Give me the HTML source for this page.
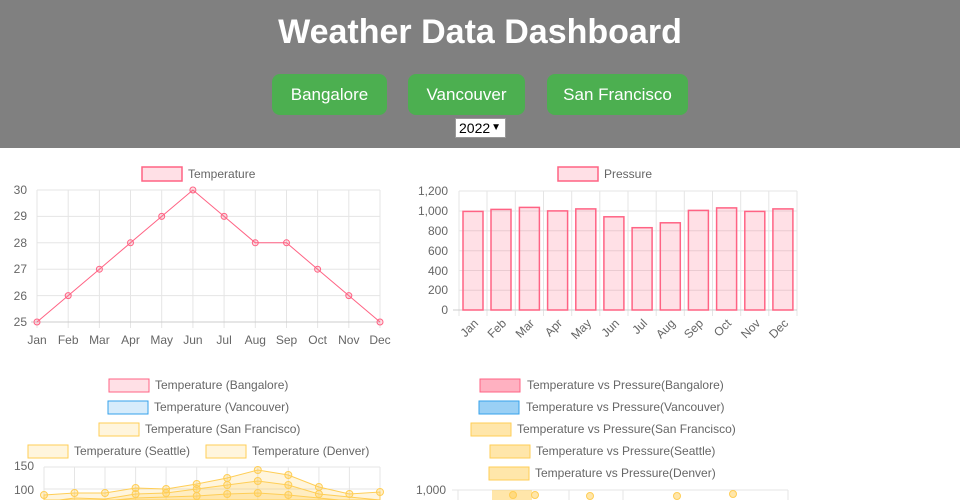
<!DOCTYPE html>
<html><head><meta charset="utf-8"><style>
body{margin:0;width:960px;height:500px;overflow:hidden;background:#fff;font-family:"Liberation Sans",sans-serif}
.hdr{position:absolute;left:0;top:0;width:960px;height:148px;background:#808080}
h1{position:absolute;left:0;width:960px;top:13px;margin:0;text-align:center;color:#fff;font-size:34px;font-weight:bold}
.b{position:absolute;top:74px;height:41px;background:#4CAF50;border-radius:8px;color:#fff;font-size:17px;line-height:41px;text-align:center}
.sel{position:absolute;left:455px;top:118px;width:51px;height:20px;background:#fff;border:1px solid #999;box-sizing:border-box;font-size:14px;line-height:18px;padding-left:3px;color:#000;white-space:nowrap;overflow:hidden}
.sel span{position:absolute;right:4px;top:0;font-size:10px}
svg{position:absolute;left:0;top:0}
text{font-family:"Liberation Sans",sans-serif;font-size:12px;fill:#666}
</style></head><body>
<div class="hdr"></div>
<h1>Weather Data Dashboard</h1>
<div class="b" style="left:272px;width:115px">Bangalore</div>
<div class="b" style="left:408px;width:117px">Vancouver</div>
<div class="b" style="left:547px;width:141px">San Francisco</div>
<div class="sel">2022<span>&#9660;</span></div>
<svg width="960" height="500">
<!-- chart1 -->
<rect x="142" y="167" width="40" height="14" fill="rgba(255,99,132,0.2)" stroke="rgb(255,99,132)" stroke-width="1.5"/>
<text x="188" y="178">Temperature</text>
<g stroke="#e5e5e5" stroke-width="1">
<line x1="37" x2="380" y1="190" y2="190"/><line x1="37" x2="380" y1="216.4" y2="216.4"/><line x1="37" x2="380" y1="242.8" y2="242.8"/><line x1="37" x2="380" y1="269.2" y2="269.2"/><line x1="37" x2="380" y1="295.6" y2="295.6"/>
<line x1="37" x2="37" y1="190" y2="328"/><line x1="68.2" x2="68.2" y1="190" y2="328"/><line x1="99.4" x2="99.4" y1="190" y2="328"/><line x1="130.5" x2="130.5" y1="190" y2="328"/><line x1="161.7" x2="161.7" y1="190" y2="328"/><line x1="192.9" x2="192.9" y1="190" y2="328"/><line x1="224.1" x2="224.1" y1="190" y2="328"/><line x1="255.3" x2="255.3" y1="190" y2="328"/><line x1="286.5" x2="286.5" y1="190" y2="328"/><line x1="317.6" x2="317.6" y1="190" y2="328"/><line x1="348.8" x2="348.8" y1="190" y2="328"/><line x1="380" x2="380" y1="190" y2="328"/>
</g>
<line x1="31" x2="380" y1="322" y2="322" stroke="#ccc"/>
<g text-anchor="end"><text x="27" y="194">30</text><text x="27" y="220">29</text><text x="27" y="247">28</text><text x="27" y="273">27</text><text x="27" y="300">26</text><text x="27" y="326">25</text></g>
<g text-anchor="middle"><text x="37" y="344">Jan</text><text x="68.2" y="344">Feb</text><text x="99.4" y="344">Mar</text><text x="130.5" y="344">Apr</text><text x="161.7" y="344">May</text><text x="192.9" y="344">Jun</text><text x="224.1" y="344">Jul</text><text x="255.3" y="344">Aug</text><text x="286.5" y="344">Sep</text><text x="317.6" y="344">Oct</text><text x="348.8" y="344">Nov</text><text x="380" y="344">Dec</text></g>
<polyline fill="none" stroke="rgb(255,99,132)" stroke-width="1" points="37,322 68.2,295.6 99.4,269.2 130.5,242.8 161.7,216.4 192.9,190 224.1,216.4 255.3,242.8 286.5,242.8 317.6,269.2 348.8,295.6 380,322"/>
<g fill="rgba(255,99,132,0.2)" stroke="rgb(255,99,132)"><circle cx="37" cy="322" r="3"/><circle cx="68.2" cy="295.6" r="3"/><circle cx="99.4" cy="269.2" r="3"/><circle cx="130.5" cy="242.8" r="3"/><circle cx="161.7" cy="216.4" r="3"/><circle cx="192.9" cy="190" r="3"/><circle cx="224.1" cy="216.4" r="3"/><circle cx="255.3" cy="242.8" r="3"/><circle cx="286.5" cy="242.8" r="3"/><circle cx="317.6" cy="269.2" r="3"/><circle cx="348.8" cy="295.6" r="3"/><circle cx="380" cy="322" r="3"/></g>
<!-- chart2 -->
<rect x="558" y="167" width="40" height="14" fill="rgba(255,99,132,0.2)" stroke="rgb(255,99,132)" stroke-width="1.5"/>
<text x="604" y="178">Pressure</text>
<g stroke="#e5e5e5">
<line x1="459" x2="797" y1="191" y2="191"/><line x1="459" x2="797" y1="211" y2="211"/><line x1="459" x2="797" y1="230.8" y2="230.8"/><line x1="459" x2="797" y1="250.7" y2="250.7"/><line x1="459" x2="797" y1="270.5" y2="270.5"/><line x1="459" x2="797" y1="290.3" y2="290.3"/>
<line x1="459" x2="459" y1="191" y2="316"/><line x1="487" x2="487" y1="191" y2="316"/><line x1="515.3" x2="515.3" y1="191" y2="316"/><line x1="543.5" x2="543.5" y1="191" y2="316"/><line x1="571.7" x2="571.7" y1="191" y2="316"/><line x1="599.8" x2="599.8" y1="191" y2="316"/><line x1="628" x2="628" y1="191" y2="316"/><line x1="656.2" x2="656.2" y1="191" y2="316"/><line x1="684.3" x2="684.3" y1="191" y2="316"/><line x1="712.5" x2="712.5" y1="191" y2="316"/><line x1="740.7" x2="740.7" y1="191" y2="316"/><line x1="768.8" x2="768.8" y1="191" y2="316"/><line x1="797" x2="797" y1="191" y2="316"/>
</g>
<line x1="453" x2="797" y1="310" y2="310" stroke="#ccc"/>
<g text-anchor="end"><text x="448" y="195">1,200</text><text x="448" y="215">1,000</text><text x="448" y="235">800</text><text x="448" y="255">600</text><text x="448" y="275">400</text><text x="448" y="294">200</text><text x="448" y="314">0</text></g>
<g fill="rgba(255,99,132,0.2)" stroke="rgb(255,99,132)" stroke-width="1.5">
<rect x="463" y="211.4" width="20" height="98.6"/><rect x="491" y="209.4" width="20" height="100.6"/><rect x="519.4" y="207.4" width="20" height="102.6"/><rect x="547.6" y="210.9" width="20" height="99.1"/><rect x="575.8" y="208.9" width="20" height="101.1"/><rect x="603.9" y="216.8" width="20" height="93.2"/><rect x="632.1" y="227.7" width="20" height="82.3"/><rect x="660.3" y="222.8" width="20" height="87.2"/><rect x="688.4" y="210.4" width="20" height="99.6"/><rect x="716.6" y="207.9" width="20" height="102.1"/><rect x="744.8" y="211.4" width="20" height="98.6"/><rect x="772.9" y="208.9" width="20" height="101.1"/>
</g>
<g text-anchor="end">
<text transform="translate(479,324) rotate(-45)">Jan</text><text transform="translate(507,324) rotate(-45)">Feb</text><text transform="translate(535,324) rotate(-45)">Mar</text><text transform="translate(563,324) rotate(-45)">Apr</text><text transform="translate(592,324) rotate(-45)">May</text><text transform="translate(620,324) rotate(-45)">Jun</text><text transform="translate(648,324) rotate(-45)">Jul</text><text transform="translate(676,324) rotate(-45)">Aug</text><text transform="translate(704,324) rotate(-45)">Sep</text><text transform="translate(732,324) rotate(-45)">Oct</text><text transform="translate(761,324) rotate(-45)">Nov</text><text transform="translate(789,324) rotate(-45)">Dec</text>
</g>
<!-- chart3 -->
<rect x="109" y="379" width="40" height="13" fill="rgba(255,99,132,0.2)" stroke="rgb(255,99,132)"/><text x="155" y="389">Temperature (Bangalore)</text>
<rect x="108" y="401" width="40" height="13" fill="rgba(54,162,235,0.2)" stroke="rgb(54,162,235)"/><text x="154" y="411">Temperature (Vancouver)</text>
<rect x="99" y="423" width="40" height="13" fill="rgba(255,206,86,0.2)" stroke="rgb(255,206,86)"/><text x="145" y="433">Temperature (San Francisco)</text>
<rect x="28" y="445" width="40" height="13" fill="rgba(255,206,86,0.2)" stroke="rgb(255,206,86)"/><text x="74" y="455">Temperature (Seattle)</text>
<rect x="206" y="445" width="40" height="13" fill="rgba(255,206,86,0.2)" stroke="rgb(255,206,86)"/><text x="252" y="455">Temperature (Denver)</text>
<g stroke="#e5e5e5"><line x1="44" x2="380" y1="467" y2="467"/><line x1="44" x2="380" y1="489" y2="489"/>
<line x1="44" x2="44" y1="467" y2="500"/><line x1="74.5" x2="74.5" y1="467" y2="500"/><line x1="105" x2="105" y1="467" y2="500"/><line x1="135.6" x2="135.6" y1="467" y2="500"/><line x1="166.1" x2="166.1" y1="467" y2="500"/><line x1="196.7" x2="196.7" y1="467" y2="500"/><line x1="227.2" x2="227.2" y1="467" y2="500"/><line x1="257.8" x2="257.8" y1="467" y2="500"/><line x1="288.3" x2="288.3" y1="467" y2="500"/><line x1="318.9" x2="318.9" y1="467" y2="500"/><line x1="349.4" x2="349.4" y1="467" y2="500"/><line x1="380" x2="380" y1="467" y2="500"/></g>
<text x="34" y="470" text-anchor="end">150</text><text x="34" y="494" text-anchor="end">100</text>
<g fill="rgba(255,206,86,0.2)" stroke="rgb(255,206,86)">
<path d="M44,495 L74.5,493 105,493 135.6,488 166.1,489 196.7,484 227.2,478 257.8,470 288.3,475 318.9,487 349.4,494 380,492 L380,500 44,500Z"/>
<path d="M44,502 L74.5,498 105,499 135.6,494 166.1,493 196.7,489 227.2,485 257.8,481 288.3,485 318.9,494 349.4,497 380,500 L380,500 44,500Z"/>
<path d="M74.5,502 105,501 135.6,498 166.1,497 196.7,496 227.2,494 257.8,493 288.3,495 318.9,498 349.4,501 L349.4,500 74.5,500Z"/>
</g>
<g fill="rgba(255,206,86,0.3)" stroke="rgb(255,206,86)">
<circle cx="44" cy="495" r="3.5"/><circle cx="74.5" cy="493" r="3.5"/><circle cx="105" cy="493" r="3.5"/><circle cx="135.6" cy="488" r="3.5"/><circle cx="166.1" cy="489" r="3.5"/><circle cx="196.7" cy="484" r="3.5"/><circle cx="227.2" cy="478" r="3.5"/><circle cx="257.8" cy="470" r="3.5"/><circle cx="288.3" cy="475" r="3.5"/><circle cx="318.9" cy="487" r="3.5"/><circle cx="349.4" cy="494" r="3.5"/><circle cx="380" cy="492" r="3.5"/>
<circle cx="135.6" cy="494" r="3.5"/><circle cx="166.1" cy="493" r="3.5"/><circle cx="196.7" cy="489" r="3.5"/><circle cx="227.2" cy="485" r="3.5"/><circle cx="257.8" cy="481" r="3.5"/><circle cx="288.3" cy="485" r="3.5"/><circle cx="318.9" cy="494" r="3.5"/>
<circle cx="196.7" cy="496" r="3.5"/><circle cx="227.2" cy="494" r="3.5"/><circle cx="257.8" cy="493" r="3.5"/><circle cx="288.3" cy="495" r="3.5"/>
</g>
<!-- chart4 -->
<rect x="480" y="379" width="40" height="13" fill="rgba(255,99,132,0.5)" stroke="rgb(255,99,132)"/><text x="527" y="389">Temperature vs Pressure(Bangalore)</text>
<rect x="479" y="401" width="40" height="13" fill="rgba(54,162,235,0.5)" stroke="rgb(54,162,235)"/><text x="526" y="411">Temperature vs Pressure(Vancouver)</text>
<rect x="471" y="423" width="40" height="13" fill="rgba(255,206,86,0.5)" stroke="rgb(255,206,86)"/><text x="517" y="433">Temperature vs Pressure(San Francisco)</text>
<rect x="490" y="445" width="40" height="13" fill="rgba(255,206,86,0.5)" stroke="rgb(255,206,86)"/><text x="536" y="455">Temperature vs Pressure(Seattle)</text>
<rect x="489" y="467" width="40" height="13" fill="rgba(255,206,86,0.5)" stroke="rgb(255,206,86)"/><text x="535" y="477">Temperature vs Pressure(Denver)</text>
<g stroke="#e5e5e5"><line x1="452" x2="788" y1="490" y2="490"/><line x1="458" x2="458" y1="490" y2="500"/><line x1="569" x2="569" y1="490" y2="500"/><line x1="623" x2="623" y1="490" y2="500"/><line x1="788" x2="788" y1="490" y2="500"/></g>
<rect x="492" y="490" width="40" height="10" fill="rgba(255,206,86,0.5)"/>
<text x="446" y="494" text-anchor="end">1,000</text>
<g fill="rgba(255,206,86,0.5)" stroke="rgb(255,206,86)"><circle cx="513" cy="495" r="3.5"/><circle cx="535" cy="495" r="3.5"/><circle cx="590" cy="496" r="3.5"/><circle cx="677" cy="496" r="3.5"/><circle cx="733" cy="494" r="3.5"/></g>
</svg>
</body></html>
